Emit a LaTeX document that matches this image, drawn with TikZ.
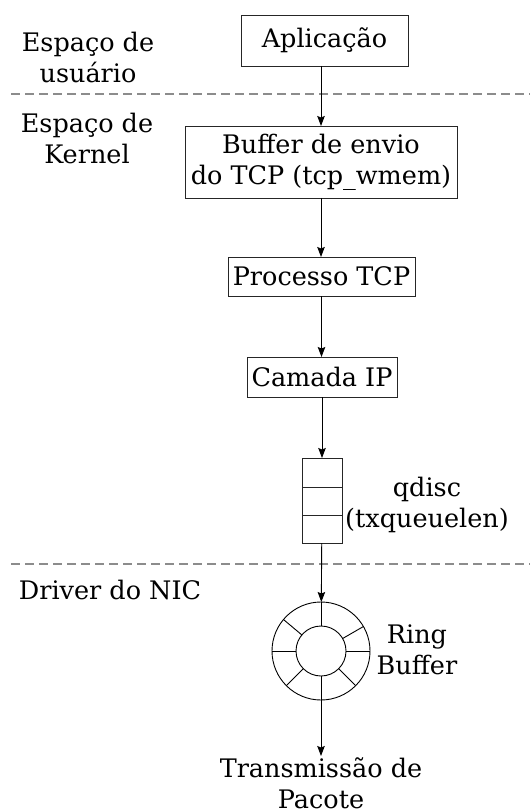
\documentclass[tikz,border=0pt]{standalone}
\usepackage{fontspec}
\setmainfont{DejaVu Serif}
\usetikzlibrary{arrows.meta}
\begin{document}
\begin{tikzpicture}[x=1pt,y=-1pt,
  every node/.style={font=\fontsize{25.5}{31}\selectfont, align=center},
  box/.style={draw=black!85, line width=0.9pt, inner sep=0pt, outer sep=0pt},
  flow/.style={draw=black, line width=0.9pt, -{Stealth[length=10pt,width=7.5pt,inset=1.5pt]}},
  sep/.style={draw=black!45, line width=1.2pt, dash pattern=on 9pt off 5pt},
  ringc/.style={circle, draw=black, line width=0.9pt, inner sep=0pt, outer sep=0pt}]
\useasboundingbox (0,0) rectangle (530,810);
% separators
\coordinate (s1a) at (11,94); \coordinate (s1b) at (530,94);
\coordinate (s2a) at (11,564); \coordinate (s2b) at (530,564);
\draw[sep] (s1a) -- (s1b);
\draw[sep] (s2a) -- (s2b);
% region labels
\node (lu) at (88,57) {Espaço de\\usuário};
\node (lk) at (87,138) {Espaço de\\Kernel};
\node (ld) at (110,590) {Driver do NIC};
% boxes
\node[box, minimum width=167pt, minimum height=51pt] (app) at (324.5,40.5) {Aplicação};
\node[box, minimum width=272pt, minimum height=72pt] (buf) at (321,162) {Buffer de envio\\do TCP (tcp\_wmem)};
\node[box, minimum width=187pt, minimum height=39pt] (tcp) at (321.5,276.5) {Processo TCP};
\node[box, minimum width=150pt, minimum height=40pt] (ip) at (322,377) {Camada IP};
% queue
\node[box, minimum width=40pt, minimum height=85pt] (q) at (322,500.5) {};
\draw[box] (q.west |- 0,487) -- (q.east |- 0,487);
\draw[box] (q.west |- 0,515) -- (q.east |- 0,515);
\node (ql) at (427,505) {qdisc\\(txqueuelen)};
% ring
\node[ringc, minimum size=98pt] (ring) at (321,651) {};
\node[ringc, minimum size=50pt] (ringin) at (321,651) {};
\foreach \a in {0,30,90,140,180,225,270,315}
  \draw[line width=0.9pt] (ringin.\a) -- (ring.\a);
\node (rl) at (417,650) {Ring\\Buffer};
% output
\node[anchor=north, inner sep=1pt] (tx) at (321,756) {Transmissão de\\Pacote};
% connectors
\draw[flow] (buf.north |- app.south) -- (buf.north);
\draw[flow] (buf.south) -- (buf.south |- tcp.north);
\draw[flow] (tcp.south) -- (tcp.south |- ip.north);
\draw[flow] (ip) -- (q);
\draw[flow] (q) -- (ring);
\draw[flow] (ring.south) -- (tx.north);
\end{tikzpicture}
\end{document}
